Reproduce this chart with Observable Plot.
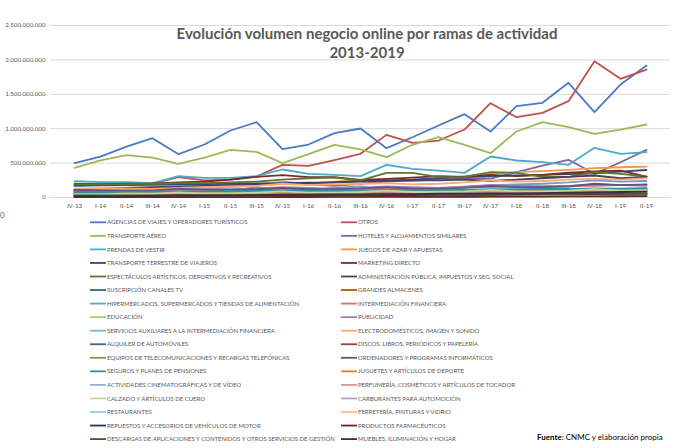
<!DOCTYPE html>
<html>
<head>
<meta charset="utf-8">
<script src="https://cdn.jsdelivr.net/npm/d3@7"></script>
<script src="https://cdn.jsdelivr.net/npm/@observablehq/plot@0.6"></script>
<style>
  html, body { margin: 0; padding: 0; background: #fff; }
  #wrap { position: relative; width: 673px; height: 448px; overflow: hidden; font-family: Lato, "Open Sans", sans-serif; }
  #chart { position: absolute; left: 0; top: 0; }
  #title { position: absolute; left: 107px; top: 24px; width: 520px; text-align: center; font-family: Lato, sans-serif;
           font-weight: bold; font-size: 15px; line-height: 19px; color: #595959; white-space: nowrap; }
  #legend { position: absolute; left: 0; top: 0; }
  #stray { position: absolute; left: 0px; top: 210px; font-size: 8px; color: #595959; font-family: Lato, sans-serif; }
</style>
</head>
<body>
<div id="wrap">
  <div id="chart"></div>
  <div id="title">Evolución volumen negocio online por ramas de actividad<br>2013-2019</div>
  <div id="stray">0</div>
</div>
<script>
// ---- Data (values in millions of euros) ----
const quarters = ["IV-13","I-14","II-14","III-14","IV-14","I-15","II-15","III-15","IV-15","I-16","II-16","III-16","IV-16","I-17","II-17","III-17","IV-17","I-18","II-18","III-18","IV-18","I-19","II-19"];
const yTicks = [0, 500000000, 1000000000, 1500000000, 2000000000, 2500000000];

const seriesNames = [
  "AGENCIAS DE VIAJES Y OPERADORES TURÍSTICOS",
  "OTROS",
  "TRANSPORTE AÉREO",
  "HOTELES  Y ALOJAMIENTOS SIMILARES",
  "PRENDAS DE VESTIR",
  "JUEGOS DE AZAR Y APUESTAS",
  "TRANSPORTE TERRESTRE DE VIAJEROS",
  "MARKETING DIRECTO",
  "ESPECTÁCULOS ARTÍSTICOS, DEPORTIVOS Y RECREATIVOS",
  "ADMINISTRACIÓN PÚBLICA, IMPUESTOS Y SEG. SOCIAL",
  "SUSCRIPCIÓN CANALES TV",
  "GRANDES ALMACENES",
  "HIPERMERCADOS, SUPERMERCADOS Y TIENDAS DE ALIMENTACIÓN",
  "INTERMEDIACIÓN FINANCIERA",
  "EDUCACIÓN",
  "PUBLICIDAD",
  "SERVICIOS AUXILIARES A LA INTERMEDIACIÓN FINANCIERA",
  "ELECTRODOMÉSTICOS,  IMAGEN Y SONIDO",
  "ALQUILER DE AUTOMÓVILES",
  "DISCOS, LIBROS, PERIÓDICOS Y PAPELERÍA",
  "EQUIPOS DE TELECOMUNICACIONES Y RECARGAS TELEFÓNICAS",
  "ORDENADORES Y PROGRAMAS INFORMÁTICOS",
  "SEGUROS Y PLANES DE PENSIONES",
  "JUGUETES Y ARTÍCULOS DE DEPORTE",
  "ACTIVIDADES CINEMATOGRÁFICAS Y DE VÍDEO",
  "PERFUMERÍA, COSMÉTICOS Y ARTÍCULOS DE TOCADOR",
  "CALZADO Y ARTÍCULOS DE CUERO",
  "CARBURANTES PARA AUTOMOCIÓN",
  "RESTAURANTES",
  "FERRETERÍA, PINTURAS Y VIDRIO",
  "REPUESTOS Y ACCESORIOS DE VEHÍCULOS DE MOTOR",
  "PRODUCTOS FARMACÉUTICOS",
  "DESCARGAS DE APLICACIONES Y CONTENIDOS Y OTROS SERVICIOS DE GESTIÓN",
  "MUEBLES, ILUMINACIÓN Y HOGAR"
];

const seriesColors = [
  "#4a7bc2", "#c0504d", "#9bbb59", "#8064a2", "#4bacc6", "#f79646",
  "#2c4d75", "#772c2a", "#5f7530", "#4d3b62", "#276a7c", "#b65708",
  "#729aca", "#cd7371", "#afc97a", "#9983b5", "#6fbdd1", "#f9ab6b",
  "#3a679c", "#9e3b38", "#7e9c40", "#664f83", "#358da4", "#f07b18",
  "#95b3d7", "#d99795", "#c3d69b", "#b2a1c7", "#93cddd", "#fac090",
  "#1f3a5a", "#6a2624", "#475924", "#3a2c4a"
];

const agencias      = [500,595,740,862,630,770,974,1095,702,770,935,1003,717,876,1046,1211,959,1327,1376,1667,1240,1642,1919];
const otros         = [180,190,195,200,295,250,260,305,475,460,545,635,910,795,828,988,1371,1167,1231,1400,1981,1725,1860];
const transAereo    = [431,538,615,581,490,581,693,664,499,630,766,698,586,766,877,766,644,959,1095,1022,926,988,1061];
const hoteles       = [100,110,120,130,150,140,160,175,200,190,170,200,230,250,270,280,276,368,465,548,344,513,693];
const prendas       = [237,223,222,208,310,286,286,310,407,344,330,310,475,417,392,358,596,538,513,475,722,635,659];
const juegos        = [112,120,115,110,130,140,150,180,230,200,230,260,250,240,270,310,344,368,382,402,426,440,450];
const transTerr     = [170,175,180,185,190,195,200,205,210,215,220,240,250,260,280,300,310,320,330,340,350,375,400];
const marketing     = [200,195,200,205,220,230,260,300,324,296,295,257,270,290,310,300,330,310,330,360,380,392,305];
const espectaculos  = [190,190,195,200,210,210,220,230,260,280,290,250,358,358,295,300,368,358,300,300,368,344,305];
const administracion= [120,130,140,150,160,170,180,190,200,210,220,230,240,250,250,260,240,260,280,300,320,280,300];
const suscripcion   = [60,60,60,60,70,70,70,70,80,80,80,90,90,90,100,100,110,110,120,120,130,120,130];
const grandesAlm    = [80,70,60,60,90,80,70,80,100,90,80,90,100,90,80,90,100,90,100,110,120,110,120];
const hipermercados = [50,50,55,60,70,70,100,150,110,100,140,160,110,120,130,160,180,190,200,220,250,230,240];
const intermediacion= [100,100,100,100,110,110,110,120,120,120,130,130,130,140,140,150,150,160,160,170,170,180,180];
const educacion     = [40,40,45,45,50,50,55,55,60,60,65,65,70,70,75,75,80,80,85,90,95,100,105];
const publicidad    = [90,95,100,100,140,130,120,130,150,140,130,140,160,150,140,150,180,170,160,170,190,180,170];
const servAux       = [30,30,30,35,35,40,40,45,45,50,50,55,55,60,60,65,65,70,70,75,80,80,85];
const electro       = [130,135,130,125,140,150,160,170,200,180,190,200,210,190,200,220,250,230,240,260,270,260,280];
const alquiler      = [20,25,25,30,25,30,30,35,30,35,35,40,35,40,45,50,40,45,50,55,45,50,55];
const discos        = [60,60,60,60,70,65,65,70,80,75,75,80,90,80,80,85,95,85,85,90,100,90,95];
const equiposTel    = [70,70,70,70,75,75,75,80,85,85,85,90,90,95,95,100,100,100,105,105,110,110,110];
const ordenadores   = [110,100,100,100,130,110,110,120,140,120,120,130,150,130,130,140,170,150,150,160,200,180,190];
const seguros       = [80,80,85,85,90,90,95,95,100,100,105,105,110,110,115,115,120,120,125,125,130,130,135];
const juguetes      = [40,35,35,40,80,45,45,50,90,50,50,55,100,55,55,60,110,60,60,65,120,70,70];
const cine          = [20,20,20,20,25,25,25,25,30,30,30,30,35,35,35,35,40,40,40,40,45,45,45];
const perfumeria    = [30,30,30,35,40,40,40,45,50,50,50,55,60,60,65,70,80,80,85,90,100,100,110];
const calzado       = [50,50,55,55,70,60,60,70,90,70,70,80,100,80,80,90,110,90,90,100,120,100,100];
const carburantes   = [10,10,10,10,10,10,12,12,12,12,15,15,15,15,18,18,18,20,20,20,22,22,22];
const restaurantes  = [10,10,12,12,15,15,18,18,20,20,25,25,30,30,35,35,40,40,45,50,55,60,65];
const ferreteria    = [10,10,10,12,12,12,15,15,15,18,18,20,20,22,22,25,25,28,28,30,35,35,40];
const repuestos     = [20,20,22,22,25,25,28,28,30,30,32,32,35,35,38,38,40,42,45,48,50,52,55];
const farmaceuticos = [5,5,5,5,5,6,6,6,7,7,8,8,9,10,10,11,12,13,14,15,16,18,20];
const descargas     = [30,30,30,30,35,35,35,35,40,40,40,40,45,45,45,45,50,50,50,50,55,55,55];
const muebles       = [20,20,20,25,30,30,30,35,40,40,45,45,50,50,55,55,60,60,65,70,75,80,85];

const seriesValues = [agencias, otros, transAereo, hoteles, prendas, juegos, transTerr, marketing,
  espectaculos, administracion, suscripcion, grandesAlm, hipermercados, intermediacion, educacion,
  publicidad, servAux, electro, alquiler, discos, equiposTel, ordenadores, seguros, juguetes, cine,
  perfumeria, calzado, carburantes, restaurantes, ferreteria, repuestos, farmaceuticos, descargas, muebles];

const sourceBold = "Fuente";
const sourceRest = ": CNMC y elaboración propia";

// ---- Build table ----
const data = [];
seriesValues.forEach((vals, si) => {
  vals.forEach((v, qi) => data.push({s: seriesNames[si], q: quarters[qi], v: v * 1e6}));
});

const fmt = d3.formatLocale({decimal: ",", thousands: ".", grouping: [3], currency: ["", ""]}).format(",");

const chart = Plot.plot({
  width: 673,
  height: 213,
  marginTop: 25,
  marginBottom: 16,
  marginLeft: 50,
  marginRight: 3,
  style: {fontFamily: "Lato, sans-serif", fontSize: "6.2px", color: "#595959", background: "transparent", overflow: "visible"},
  x: {type: "point", domain: quarters, padding: 0.5},
  y: {domain: [0, 2500000000]},
  color: {domain: seriesNames, range: seriesColors},
  marks: [
    Plot.ruleY(yTicks, {stroke: "#d9d9d9", strokeWidth: 1}),
    Plot.axisY(yTicks, {tickSize: 0, tickPadding: 5, tickFormat: fmt, label: null, fill: "#595959"}),
    Plot.axisX({tickSize: 0, tickPadding: 6, label: null, fill: "#595959"}),
    Plot.lineY(data, {x: "q", y: "v", z: "s", stroke: "s", strokeWidth: 1.8})
  ]
});
document.getElementById("chart").appendChild(chart);

// ---- Legend & source ----
const svg = d3.select("#wrap").append("svg")
  .attr("id", "legend").attr("width", 673).attr("height", 448)
  .style("position", "absolute").style("left", 0).style("top", 0);

seriesNames.forEach((name, i) => {
  const col = i % 2, row = Math.floor(i / 2);
  const x0 = col === 0 ? 90 : 341;
  const y = 222.3 + row * 13.55;
  svg.append("line").attr("x1", x0).attr("x2", x0 + 16).attr("y1", y).attr("y2", y)
    .attr("stroke", seriesColors[i]).attr("stroke-width", 1.8);
  svg.append("text").attr("x", x0 + 17).attr("y", y).attr("dy", "0.35em")
    .attr("font-family", "Lato, sans-serif").attr("font-size", 6).attr("fill", "#595959")
    .text(name);
});

const src = svg.append("text").attr("x", 537).attr("y", 437).attr("dy", "0.35em")
  .attr("font-family", "Lato, sans-serif").attr("font-size", 8).attr("fill", "#000");
src.append("tspan").attr("font-weight", "bold").text(sourceBold);
src.append("tspan").text(sourceRest);
</script>
</body>
</html>
